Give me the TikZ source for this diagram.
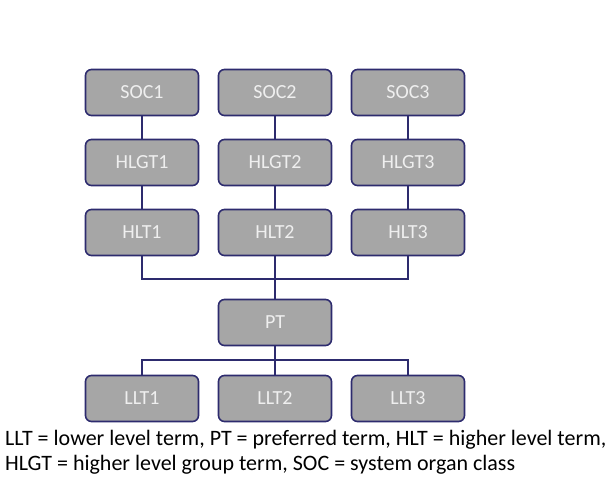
\documentclass[tikz,border=0pt]{standalone}
\usepackage{fontspec}
\setmainfont{Carlito}
\usepackage{tikz}
\usetikzlibrary{positioning}

\definecolor{boxfill}{HTML}{A6A6A6}
\definecolor{boxline}{HTML}{2D2B6E}
\definecolor{boxtext}{HTML}{EFEFEF}

\begin{document}
\begin{tikzpicture}[
    x=1pt, y=-1pt,
    term/.style={draw=boxline, fill=boxfill, line width=1.6pt, rounded corners=6pt, minimum width=113pt, minimum height=46pt, align=center, text=boxtext, font=\fontsize{20}{22}\selectfont},
    link/.style={draw=boxline, line width=2pt},
    legend/.style={anchor=base west, inner sep=0pt, font=\fontsize{22}{26}\selectfont}
]
\useasboundingbox (0,0) rectangle (616,480);

% upper levels
\node[term] (soc1) at (142,92.5) {SOC1};
\node[term] (soc2) at (275,92.5) {SOC2};
\node[term] (soc3) at (408,92.5) {SOC3};
\node[term] (hlgt1) at (142,162.5) {HLGT1};
\node[term] (hlgt2) at (275,162.5) {HLGT2};
\node[term] (hlgt3) at (408,162.5) {HLGT3};
\node[term] (hlt1) at (142,232.5) {HLT1};
\node[term] (hlt2) at (275,232.5) {HLT2};
\node[term] (hlt3) at (408,232.5) {HLT3};

% lower levels
\node[term] (pt) at (275,322.5) {PT};
\node[term] (llt1) at (142,398.5) {LLT1};
\node[term] (llt2) at (275,398.5) {LLT2};
\node[term] (llt3) at (408,398.5) {LLT3};

\foreach \i in {1,2,3} {
    \draw[link] (soc\i) -- (hlgt\i);
    \draw[link] (hlgt\i) -- (hlt\i);
}
\coordinate (upbus) at (275,279);
\coordinate (lowbus) at (275,360);
\draw[link] (hlt1.south) |- (upbus) -| (hlt3.south);
\draw[link] (hlt2) -- (pt);
\draw[link] (llt1.north) |- (lowbus) -| (llt3.north);
\draw[link] (pt) -- (llt2);

% abbreviations
\node[legend] (legend1) at (5,445) {LLT = lower level term, PT = preferred term, HLT = higher level term,};
\node[legend] (legend2) at (5,470) {HLGT = higher level group term, SOC = system organ class};
\end{tikzpicture}
\end{document}
